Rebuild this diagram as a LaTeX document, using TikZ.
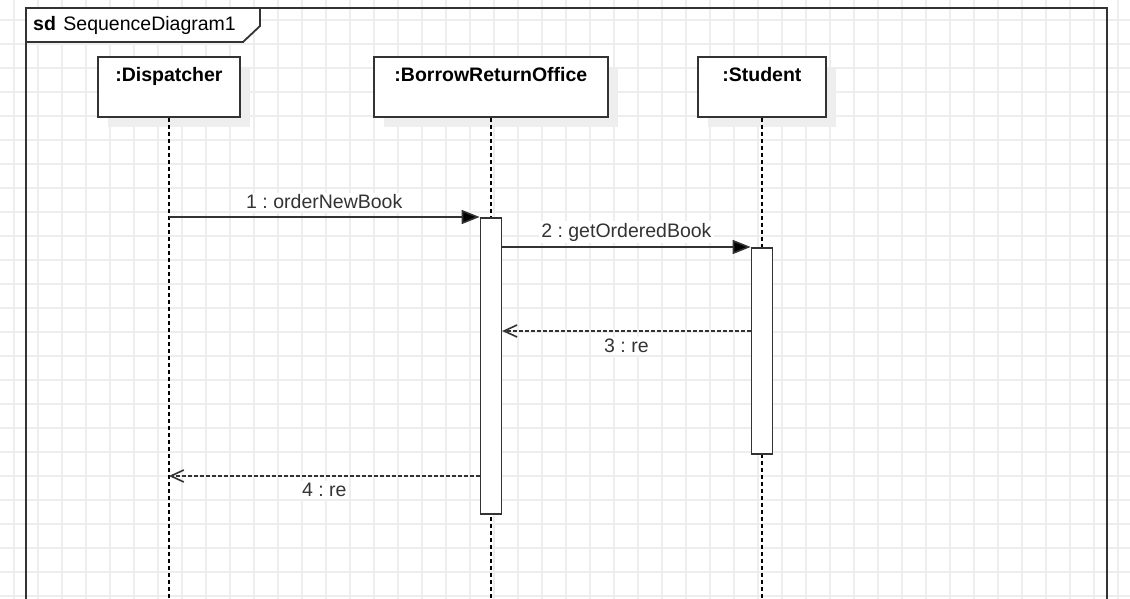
\documentclass[tikz,border=0pt]{standalone}
\usepackage{fontspec}
\setmainfont{Liberation Sans}
\usepackage{tikz}
\usetikzlibrary{arrows.meta,shadows}
\definecolor{umlgrey}{RGB}{51,51,51}
\definecolor{gridgrey}{RGB}{238,238,238}
\definecolor{shadegrey}{RGB}{238,238,238}
\frenchspacing

\begin{document}
\begin{tikzpicture}[x=1pt, y=-1pt, font=\fontsize{19.5}{23}\selectfont,
    gridline/.style={gridgrey, line width=1.3pt},
    frameline/.style={umlgrey, line width=1.8pt},
    headbox/.style={draw=umlgrey, line width=1.8pt, fill=white, anchor=north west,
      minimum height=60pt, inner sep=0pt, text height=14pt, text depth=25pt,
      font=\fontsize{19.5}{23}\selectfont\bfseries,
      drop shadow={shadow xshift=10pt, shadow yshift=-10pt, fill=shadegrey, opacity=1}},
    lifeline/.style={black, line width=1.4pt, dash pattern=on 4pt off 3pt},
    actbar/.style={draw=umlgrey, line width=1.5pt, fill=white, anchor=north,
      minimum width=21pt, inner sep=0pt},
    call/.style={umlgrey, line width=1.6pt, -{Triangle[length=18pt,width=14pt,fill=black]}},
    reply/.style={umlgrey, line width=1.6pt, dash pattern=on 3.5pt off 2.5pt,
      -{Straight Barb[length=13pt,width=12pt]}},
    msglabel/.style={fill=white, inner sep=2pt}]
    \useasboundingbox (0,0) rectangle (1130,599);

    % Background grid
    \foreach \gx in {14,38,...,1118}{
      \draw[gridline] (\gx,0) -- (\gx,599);
    }
    \foreach \gy in {20,44,...,596}{
      \draw[gridline] (0,\gy) -- (1130,\gy);
    }

    % Frame with its name tab
    \draw[frameline] (26,610) -- (26,8) -- (1107,8) -- (1107,610);
    \draw[frameline,fill=white]
      (26,8) -- (260,8) -- (260,26) -- (243,42) -- (26,42) -- cycle;
    \node[anchor=base west,inner sep=0pt] (sdname) at (33,31)
      {\textbf{sd}\hspace{7.5pt}SequenceDiagram1};

    % Lifeline heads
    \node[headbox,minimum width=142pt] (disp) at (97,56) {:Dispatcher};
    \node[headbox,minimum width=234pt] (bro) at (373,56) {:BorrowReturnOffice};
    \node[headbox,minimum width=128pt] (stu) at (697,56) {:Student};

    % Lifelines
    \foreach \who in {disp,bro,stu}{
      \draw[lifeline] (\who.south) -- (\who.south |- 0,610);
    }

    % Activation bars
    \node[actbar,minimum height=296pt] (actBRO) at (bro.south |- 0,217) {};
    \node[actbar,minimum height=206pt] (actStu) at (stu.south |- 0,247) {};

    % Messages
    \draw[call] (disp.south |- actBRO.north) -- (actBRO.north west)
      node[msglabel,midway,yshift=15pt] {1 : orderNewBook};
    \draw[call] (actBRO.east |- actStu.north) -- (actStu.north west)
      node[msglabel,midway,yshift=15pt] {2 : getOrderedBook};
    \draw[reply] (actStu.west |- 0,331) -- (actBRO.east |- 0,331)
      node[msglabel,midway,yshift=-15pt] {3 : re};
    \draw[reply] (actBRO.west |- 0,476) -- (disp.south |- 0,476)
      node[msglabel,midway,yshift=-14pt] {4 : re};
  \end{tikzpicture}
\end{document}
